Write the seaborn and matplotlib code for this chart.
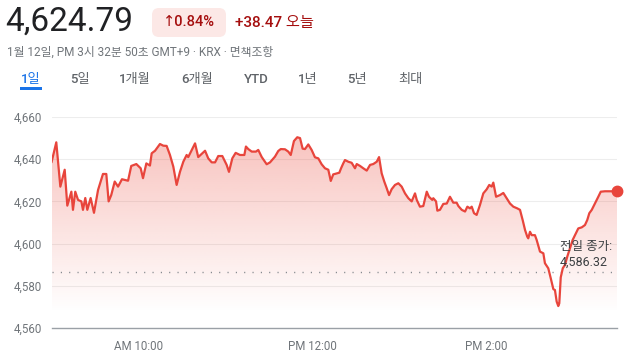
import numpy as np
import pandas as pd
import matplotlib
matplotlib.use("Agg")
import matplotlib.pyplot as plt
import seaborn as sns
from matplotlib.patches import FancyBboxPatch, Rectangle
from matplotlib.transforms import IdentityTransform

# ---------------- data ----------------
minutes = [0, 3.3, 6.1, 9.1, 10.9, 13.7, 14.8, 16.4, 18.3, 20.6, 21.7, 23.3, 24.7, 27.0, 29.3,
           32.1, 35.5, 37.8, 39.4, 41.2, 43.6, 45.9, 48.6, 52.8, 55.0, 58.5, 61.5, 63.1, 65.4,
           67.9, 69.1, 71.4, 74.8, 77.1, 79.4, 81.7, 84.0, 86.3, 88.6, 90.9, 93.2, 94.3, 96.2,
           99.0, 101.2, 103.6, 105.9, 108.1, 110.5, 112.8, 115.0, 117.8, 120.8, 122.4, 124.7,
           127.0, 130.0, 133.0, 134.1, 135.7, 138.1, 141.0, 142.6, 145.0, 148.4, 150.7, 154.1,
           156.4, 158.1, 161.0, 163.3, 165.0, 167.2, 169.5, 171.4, 173.2, 174.8, 177.1, 179.4,
           181.7, 184.0, 186.3, 188.6, 190.9, 192.6, 194.3, 198.5, 199.7, 201.2, 202.4, 204.7,
           207.0, 209.3, 210.5, 212.8, 215.0, 217.4, 219.7, 221.9, 224.3, 225.9, 227.7, 229.5,
           231.2, 232.8, 234.6, 236.9, 239.2, 241.5, 243.8, 246.1, 248.4, 250.7, 251.9, 254.1,
           256.4, 258.8, 260.3, 262.6, 263.3, 265.2, 266.1, 267.9, 270.2, 272.6, 274.8, 277.1,
           279.4, 280.6, 282.9, 285.2, 286.8, 288.6, 289.8, 291.4, 293.2, 295.5, 297.8, 300.1,
           301.9, 303.6, 304.7, 306.6, 309.3, 311.6, 313.9, 316.2, 318.5, 321.2, 323.1, 325.0,
           326.6, 328.1, 328.8, 330.0, 331.2, 333.4, 334.6, 336.9, 339.2, 340.3, 342.6, 344.3,
           346.1, 347.2, 348.4, 349.5, 350.2, 351.2, 352.6, 354.1, 355.7, 357.6, 359.4, 361.0,
           363.3, 365.7, 367.9, 369.5, 370.9, 372.6, 374.8, 377.1, 378.8, 381.7, 390.0]
prices = [4638.5, 4648.0, 4627.0, 4635.0, 4618.0, 4624.6, 4616.0, 4624.6, 4620.7, 4620.0, 4616.0,
          4621.6, 4616.0, 4621.6, 4614.6, 4625.4, 4633.0, 4633.0, 4620.0, 4623.0, 4629.4, 4627.0,
          4630.5, 4629.8, 4636.8, 4637.7, 4635.7, 4631.0, 4638.0, 4637.0, 4642.8, 4644.0, 4647.2,
          4646.4, 4646.3, 4642.0, 4636.5, 4627.8, 4634.0, 4638.8, 4642.0, 4641.0, 4643.6, 4647.5,
          4641.0, 4642.5, 4644.0, 4640.4, 4638.5, 4638.5, 4641.5, 4641.5, 4637.3, 4634.0, 4640.4,
          4643.0, 4642.0, 4642.0, 4646.0, 4644.8, 4643.6, 4643.6, 4644.4, 4641.0, 4637.6, 4638.5,
          4641.2, 4643.9, 4644.8, 4644.7, 4643.6, 4642.0, 4648.6, 4650.4, 4650.0, 4645.0, 4644.8,
          4647.0, 4644.4, 4640.9, 4640.4, 4637.6, 4635.7, 4635.0, 4629.7, 4632.8, 4633.6, 4635.7,
          4638.0, 4639.6, 4638.8, 4638.3, 4635.7, 4637.7, 4636.8, 4635.7, 4634.6, 4637.3, 4637.7,
          4638.8, 4641.0, 4633.3, 4629.4, 4626.2, 4623.0, 4625.8, 4627.8, 4628.6, 4627.0, 4623.8,
          4621.5, 4620.0, 4623.8, 4620.7, 4617.5, 4617.8, 4624.6, 4622.2, 4620.7, 4621.5, 4620.0,
          4615.6, 4616.0, 4618.8, 4619.0, 4622.2, 4619.4, 4619.4, 4617.8, 4616.0, 4615.2, 4617.5,
          4616.7, 4617.5, 4614.4, 4613.6, 4618.3, 4623.8, 4625.7, 4627.8, 4627.0, 4628.9, 4622.2,
          4623.0, 4624.0, 4621.5, 4619.0, 4617.5, 4616.7, 4616.0, 4611.0, 4606.4, 4603.3, 4602.5,
          4605.6, 4604.0, 4604.0, 4601.7, 4596.2, 4595.4, 4590.7, 4588.3, 4583.6, 4578.4, 4578.0,
          4572.5, 4570.4, 4571.7, 4584.0, 4588.3, 4589.9, 4593.8, 4597.8, 4601.7, 4604.0, 4607.2,
          4607.7, 4608.8, 4611.2, 4614.4, 4616.0, 4619.0, 4622.2, 4624.6, 4624.8, 4624.79]
prev_close = 4586.32
last_price = "4,624.79"
change_pct = "↑0.84%"
change_abs = "+38.47 오늘"
subtitle = "1월 12일, PM 3시 32분 50초 GMT+9 · KRX · 면책조항"
tabs = ["1일", "5일", "1개월", "6개월", "YTD", "1년", "5년", "최대"]
y_ticks = [4560, 4580, 4600, 4620, 4640, 4660]
x_ticks = [60, 180, 300]
x_ticklabels = ["AM 10:00", "PM 12:00", "PM 2:00"]
prev_close_label = ["전일 종가:", "4,586.32"]

df = pd.DataFrame({"minute": minutes, "price": prices})

# ---------------- style ----------------
sns.set_theme(style="white")
plt.rcParams["font.family"] = ["Roboto", "DejaVu Sans", "Noto Sans CJK KR"]

RED = "#e8453c"
GREY_TXT = "#70757a"

fig = plt.figure(figsize=(6.4, 3.6), dpi=100)
W, H = 640, 360
ax = fig.add_axes([51.5 / W, 1 - 328 / H, 565.5 / W, 211 / H])

# gradient fill under the line
grad_top, grad_bot = 4651, 4567
n = 256
alphas = np.linspace(0.32, 0.0, n).reshape(-1, 1)
rgba = np.zeros((n, 1, 4))
rgba[..., 0] = 234 / 255
rgba[..., 1] = 67 / 255
rgba[..., 2] = 53 / 255
rgba[..., 3] = alphas
img = ax.imshow(rgba, aspect="auto", extent=[0, 390, grad_bot, grad_top],
                origin="upper", zorder=1, interpolation="bilinear")
poly = ax.fill_between(df["minute"], df["price"], 4560, facecolor="none", edgecolor="none")
clip_path = poly.get_paths()[0]
img.set_clip_path(clip_path, transform=ax.transData)

# grid lines
for v in y_ticks[1:]:
    ax.axhline(v, color="#ededed", lw=0.8, zorder=0.5)

# previous close dotted line
ax.axhline(prev_close, color="#80868b", lw=1.0, ls=(0, (0.8, 5.2)), zorder=2)

sns.lineplot(data=df, x="minute", y="price", ax=ax, color=RED, lw=1.6, zorder=3)
ax.plot([df["minute"].iloc[-1]], [df["price"].iloc[-1]], "o", color=RED,
        markersize=7.5, zorder=4, clip_on=False)

ax.set_xlim(0, 390)
ax.set_ylim(4560, 4660)
ax.set_xlabel("")
ax.set_ylabel("")
for s in ["top", "right", "left"]:
    ax.spines[s].set_visible(False)
ax.spines["bottom"].set_color("#9aa0a6")
ax.spines["bottom"].set_linewidth(1.0)
ax.set_yticks(y_ticks)
ax.set_yticklabels([f"{v:,}" for v in y_ticks])
ax.set_xticks(x_ticks)
ax.set_xticklabels(x_ticklabels)
ax.tick_params(axis="y", length=0, pad=6.5, labelsize=8.3, labelcolor=GREY_TXT)
ax.tick_params(axis="x", length=3.5, width=1.2, color="#5f6368", pad=5,
               labelsize=8.3, labelcolor=GREY_TXT, direction="out")
ax.set_facecolor("white")

ax.text(350.7, 4598.4, prev_close_label[0], fontsize=9, color="#3c4043",
        ha="left", va="center", zorder=5)
ax.text(350.7, 4591.3, prev_close_label[1], fontsize=9, color="#3c4043",
        ha="left", va="center", zorder=5)

# ---------------- header ----------------
def px(x, y):
    return x / W, 1 - y / H

fig.text(*px(5, 22), last_price, fontsize=24, color="#202124", ha="left", va="center")

badge = FancyBboxPatch((152, H - 37), 74, 29, boxstyle="round,pad=0,rounding_size=7",
                       transform=IdentityTransform(), facecolor="#fce8e6",
                       edgecolor="none")
fig.add_artist(badge)
fig.text(*px(189, 22.5), change_pct, fontsize=10.5, color="#a50e0e",
         ha="center", va="center", fontweight="medium")
fig.text(*px(235, 22.5), change_abs, fontsize=11, color="#a50e0e",
         ha="left", va="center", fontweight="medium")

fig.text(*px(7, 52), subtitle, fontsize=8.5, color=GREY_TXT, ha="left", va="center")

tab_x = [31, 80, 135, 197, 256, 308, 357, 410]
for i, (t, xx) in enumerate(zip(tabs, tab_x)):
    fig.text(*px(xx, 79.5), t, fontsize=9.5, ha="center", va="center",
             color="#1a73e8" if i == 0 else "#5f6368", fontweight="medium")
fig.add_artist(Rectangle((20, H - 90), 22, 3, transform=IdentityTransform(),
                         facecolor="#1a73e8", edgecolor="none"))

fig.savefig("out.png", dpi=100, facecolor="white")
